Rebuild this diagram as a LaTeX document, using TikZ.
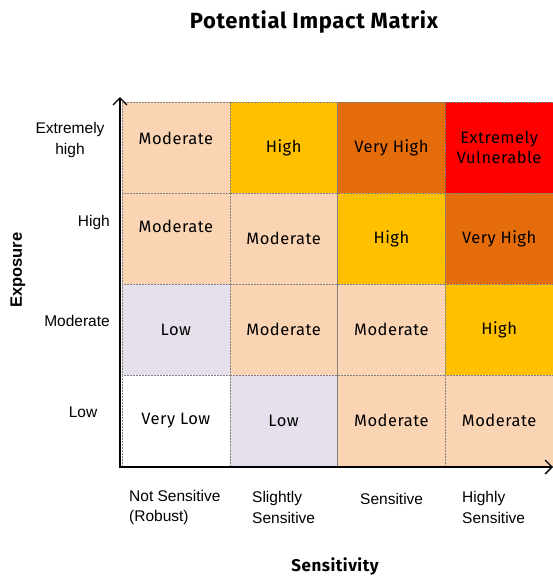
\documentclass[tikz,border=0pt]{standalone}
\usepackage{fontspec}
\setmainfont{Liberation Sans}
\newfontfamily\dinfont[LetterSpace=3]{Fira Sans}
\usetikzlibrary{arrows.meta}
\definecolor{peach}{HTML}{FBD4B4}
\definecolor{amber}{HTML}{FFC000}
\definecolor{burnt}{HTML}{E46C0A}
\definecolor{alarm}{HTML}{FF0000}
\definecolor{lilac}{HTML}{E5E0EC}

\begin{document}
\begin{tikzpicture}[x=1pt, y=-1pt, >={Straight Barb[length=7pt,width=14pt]}]
\tikzset{
  cell/.style={draw=gray, densely dotted, line width=0.5pt, minimum width=107.75pt, minimum height=91pt, inner sep=0pt},
  celltext/.style={font=\dinfont\fontsize{16.5}{20.5}\selectfont, align=center, inner sep=0pt},
  axlabel/.style={font=\fontsize{15.5}{20.5}\selectfont, inner sep=0pt},
  heading/.style={font=\dinfont\bfseries\fontsize{17}{20}\selectfont, inner sep=0pt}
}
\useasboundingbox (0,0) rectangle (553,576);

% the sixteen cells, row 1 = extremely high exposure
\foreach \r/\c/\clr/\txt/\up in {
  1/1/peach/Moderate/9.5, 1/2/amber/High/0, 1/3/burnt/Very High/0, 1/4/alarm/{Extremely\\Vulnerable}/0,
  2/1/peach/Moderate/12.5, 2/2/peach/Moderate/0, 2/3/amber/High/0, 2/4/burnt/Very High/0,
  3/1/lilac/Low/0, 3/2/peach/Moderate/0, 3/3/peach/Moderate/0, 3/4/amber/High/0,
  4/1/white/Very Low/0, 4/2/lilac/Low/0, 4/3/peach/Moderate/0, 4/4/peach/Moderate/0} {
  \node[cell, fill=\clr] (cell-\r-\c) at ({122+107.75*(\c-0.5)}, {102+91*(\r-0.5)}) {};
  \node[celltext, yshift=\up pt] (txt-\r-\c) at (cell-\r-\c) {\txt};
}

% axes
\coordinate (origin) at (120,467);
\coordinate (ytip) at (120,97);
\coordinate (xtip) at (553,467);
\draw[line width=1.4pt, ->] (origin) -- (ytip);
\draw[line width=1.4pt, ->] ([xshift=-1pt]origin) -- (xtip);

% exposure levels
\node[axlabel, align=center] (ex-xhigh) at (70,140) {Extremely\\high};
\node[axlabel, anchor=east] (ex-high) at (110,222) {High};
\node[axlabel, anchor=east] (ex-mod) at (110,321) {Moderate};
\node[axlabel] (ex-low) at (83,412) {Low};

% sensitivity levels
\node[axlabel, anchor=west, align=left] (se-not) at (129,507.5) {Not Sensitive\\(Robust)};
\node[axlabel, anchor=west, align=left] (se-slight) at (252,507.5) {Slightly\\Sensitive};
\node[axlabel, anchor=west] (se-sens) at (360,499) {Sensitive};
\node[axlabel, anchor=west, align=left] (se-high) at (462,507.5) {Highly\\Sensitive};

% titles
\node[heading, font=\dinfont\bfseries\fontsize{22}{26}\selectfont] (title) at (314,22) {Potential Impact Matrix};
\node[heading] (xtitle) at (335,566) {Sensitivity};
\node[axlabel, font=\bfseries\fontsize{16.5}{20}\selectfont, rotate=90] (ytitle) at (18,270) {Exposure};
\end{tikzpicture}
\end{document}
